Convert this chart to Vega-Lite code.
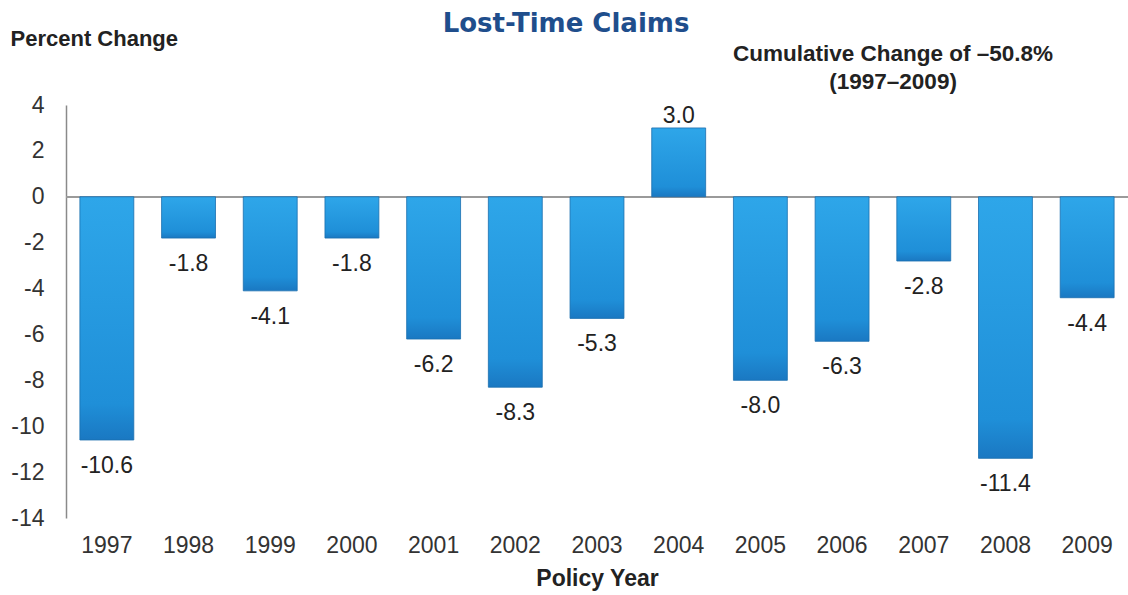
{
  "$schema": "https://vega.github.io/schema/vega-lite/v6.json",
  "width": 1062,
  "height": 413,
  "autosize": {"type": "none"},
  "padding": {"left": 66, "top": 105, "right": 0, "bottom": 77},
  "background": "white",
  "title": {
    "text": "Lost-Time Claims",
    "font": "DejaVu Sans",
    "fontSize": 26,
    "fontWeight": "bold",
    "color": "#1f4e8c",
    "anchor": "middle",
    "frame": "group",
    "dx": -31,
    "offset": -10
  },
  "config": {
    "view": {"stroke": null},
    "font": "Liberation Sans",
    "locale": {"number": {"decimal": ".", "thousands": ",", "grouping": [3], "currency": ["$", ""], "minus": "-"}}
  },
  "data": {
    "values": [
      {"year": "1997", "value": -10.6},
      {"year": "1998", "value": -1.8},
      {"year": "1999", "value": -4.1},
      {"year": "2000", "value": -1.8},
      {"year": "2001", "value": -6.2},
      {"year": "2002", "value": -8.3},
      {"year": "2003", "value": -5.3},
      {"year": "2004", "value": 3.0},
      {"year": "2005", "value": -8.0},
      {"year": "2006", "value": -6.3},
      {"year": "2007", "value": -2.8},
      {"year": "2008", "value": -11.4},
      {"year": "2009", "value": -4.4}
    ]
  },
  "encoding": {
    "x": {
      "field": "year",
      "type": "ordinal",
      "scale": {"paddingInner": 0.34, "paddingOuter": 0.17},
      "axis": {
        "orient": "bottom",
        "domain": false,
        "ticks": false,
        "labelAngle": 0,
        "labelFontSize": 23,
        "labelColor": "#333333",
        "labelPadding": 16,
        "title": "Policy Year",
        "titleFontSize": 23,
        "titleFontWeight": "bold",
        "titleColor": "#222222",
        "titlePadding": 10
      }
    }
  },
  "layer": [
    {
      "mark": {"type": "rule", "color": "#9a9a9a", "strokeWidth": 1.5},
      "encoding": {"y": {"datum": 0, "type": "quantitative", "scale": {"domain": [-14, 4], "nice": false, "zero": false}}, "x": null}
    },
    {
      "mark": {
        "type": "bar",
        "fill": {
          "gradient": "linear",
          "x1": 0, "y1": 0, "x2": 0, "y2": 1,
          "stops": [
            {"offset": 0, "color": "#2ea6e9"},
            {"offset": 0.85, "color": "#1f8fd8"},
            {"offset": 1, "color": "#1a78c2"}
          ]
        },
        "stroke": "#1b6fae",
        "strokeWidth": 0.8
      },
      "encoding": {
        "y": {
          "field": "value",
          "type": "quantitative",
          "scale": {"domain": [-14, 4], "nice": false, "zero": false},
          "axis": {
            "values": [-14, -12, -10, -8, -6, -4, -2, 0, 2, 4],
            "grid": false,
            "ticks": false,
            "domain": true,
            "domainColor": "#8a8a8a",
            "domainWidth": 1.5,
            "labelFontSize": 23,
            "labelColor": "#333333",
            "labelPadding": 22,
            "title": "Percent Change",
            "titleAngle": 0,
            "titleAlign": "left",
            "titleBaseline": "middle",
            "titleX": -56,
            "titleY": -67,
            "titleFontSize": 22,
            "titleFontWeight": "bold",
            "titleColor": "#222222"
          }
        }
      }
    },
    {
      "transform": [{"filter": "datum.value < 0"}],
      "mark": {"type": "text", "baseline": "top", "dy": 15, "fontSize": 23, "color": "#222222"},
      "encoding": {
        "y": {"field": "value", "type": "quantitative"},
        "text": {"field": "value", "type": "quantitative", "format": ".1f"}
      }
    },
    {
      "transform": [{"filter": "datum.value > 0"}],
      "mark": {"type": "text", "baseline": "alphabetic", "dy": -5, "fontSize": 23, "color": "#222222"},
      "encoding": {
        "y": {"field": "value", "type": "quantitative"},
        "text": {"field": "value", "type": "quantitative", "format": ".1f"}
      }
    },
    {
      "data": {"values": [{"note": "Cumulative Change of –50.8%"}]},
      "mark": {
        "type": "text",
        "text": ["Cumulative Change of –50.8%", "(1997–2009)"],
        "align": "center",
        "baseline": "top",
        "lineHeight": 28,
        "fontSize": 22.5,
        "fontWeight": "bold",
        "color": "#222222",
        "dx": 51
      },
      "encoding": {
        "x": {"datum": "2006", "type": "ordinal"},
        "y": {"datum": 6.7, "type": "quantitative"}
      }
    }
  ]
}
